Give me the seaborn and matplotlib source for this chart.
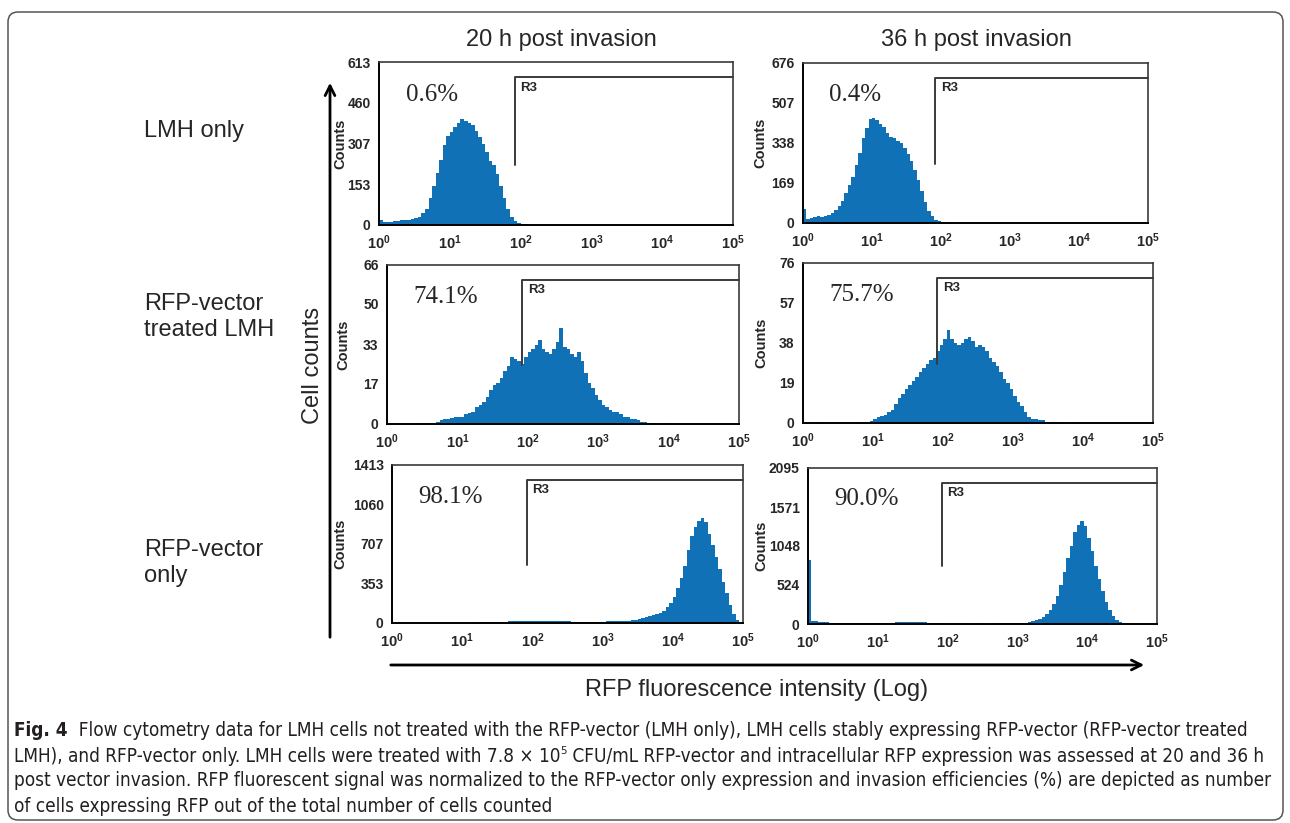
import numpy as np
import pandas as pd
import matplotlib
matplotlib.use("Agg")
import matplotlib.pyplot as plt
import matplotlib.transforms as mtransforms
from matplotlib.patches import FancyBboxPatch
from matplotlib import font_manager
import seaborn as sns

# ---------------- data ----------------
column_titles = ["20 h post invasion", "36 h post invasion"]
row_labels = ["LMH only", "RFP-vector\ntreated LMH", "RFP-vector\nonly"]
percent_labels = [["0.6%", "0.4%"], ["74.1%", "75.7%"], ["98.1%", "90.0%"]]
y_tick_labels = [
    [[0, 153, 307, 460, 613], [0, 169, 338, 507, 676]],
    [[0, 17, 33, 50, 66], [0, 19, 38, 57, 76]],
    [[0, 353, 707, 1060, 1413], [0, 524, 1048, 1571, 2095]],
]
x_tick_exponents = [0, 1, 2, 3, 4, 5]
gate_label = "R3"
gate_start = 83          # lower bound of the R3 gate (fluorescence units)
n_channels = 100         # channels spread evenly over 5 log decades

# counts per channel, channel 0 = 10^0
counts_lmh_20h = [20, 10, 12, 12, 14, 15, 18, 18, 20, 22, 25, 30, 45, 62, 100, 145, 195, 245, 300, 335,
                  350, 370, 385, 400, 390, 385, 375, 355, 330, 305, 275, 240, 225, 190, 145, 100, 60, 30,
                  15, 8, 4, 2]
counts_lmh_36h = [60, 18, 22, 25, 28, 26, 30, 35, 42, 55, 70, 95, 126, 160, 196, 245, 295, 360, 400, 440,
                  445, 435, 420, 405, 380, 365, 358, 345, 337, 315, 290, 260, 225, 180, 135, 90, 50, 28,
                  14, 8, 4, 3, 2]
counts_treated_20h = [0, 0, 0, 0, 0, 0, 0, 0, 0,
                      0.5, 0.5, 0, 0.5, 0.5, 1, 1.5, 2, 2, 2.5, 3, 3, 3, 4, 4.5, 5, 7, 8, 9, 11, 14,
                      16, 17, 19, 22, 24, 28, 27, 26, 25, 28, 30, 31, 33, 35, 31, 30, 29, 31, 34, 40,
                      32, 31, 29, 28, 30, 26, 21, 17, 15, 12, 10, 8, 7, 6, 5, 5, 4, 3, 3, 2,
                      2, 1.5, 1, 1, 0.5, 0.5, 0.5, 0, 0, 0.5]
counts_treated_36h = [0, 0, 0, 0, 0.5, 0, 0, 0, 0, 0, 0, 0, 0, 0, 0, 0, 0, 0.5, 0,
                      1, 2, 3, 3.5, 4, 5, 6, 9, 12, 14, 16, 18, 20, 22, 24, 26, 28, 30, 31, 34, 37,
                      40, 44, 40, 38, 37, 38, 40, 41, 39, 36, 37, 36, 34, 31, 29, 27, 24, 21, 19, 16,
                      13, 10, 8, 5, 3, 2, 2, 1.5, 1.5, 0.5, 0, 0.5, 0.5, 0, 0, 0, 0, 0.5]
counts_vector_20h = [0] * 20 + [
    1, 2, 3, 3, 5, 6, 7, 8, 9, 10, 11, 12, 13, 14, 15, 16, 17, 18, 19, 20,
    22, 22, 21, 20, 18, 17, 16, 15, 15, 14, 14, 13, 13, 12, 12, 12, 12, 12, 12, 13,
    13, 14, 14, 15, 16, 18, 20, 22, 25, 30, 35, 42, 50, 60, 70, 78, 90, 110, 140, 180,
    230, 310, 400, 510, 650, 780, 860, 910, 940, 900, 800, 700, 590, 480, 370, 270, 160, 80, 30, 8]
counts_vector_36h = [860,
                     40, 35, 30, 28, 25, 20, 15, 12, 10, 8, 8, 8, 8, 8, 8, 9, 9, 10, 11, 13,
                     15, 17, 18, 20, 22, 24, 25, 27, 28, 30, 28, 26, 22, 18, 12, 9, 8, 7, 7,
                     6, 6, 7, 6, 6, 7, 6, 6, 6, 7, 6, 6, 6, 6, 7, 7, 7, 8, 8, 9,
                     10, 14, 18, 25, 35, 50, 70, 100, 140, 190, 270, 380, 530, 700, 880, 1050, 1230,
                     1330, 1380, 1320, 1150, 980, 780, 600, 440, 300, 190, 110, 55, 25, 10, 4, 2]

panel_counts = [[counts_lmh_20h, counts_lmh_36h],
                [counts_treated_20h, counts_treated_36h],
                [counts_vector_20h, counts_vector_36h]]

x_axis_title = "RFP fluorescence intensity (Log)"
y_axis_title = "Cell counts"
# each caption line is a list of (text, style) pieces; style: b=bold, n=normal, s=superscript
caption_lines = [
    [("Fig. 4", "b"), ("  Flow cytometry data for LMH cells not treated with the RFP-vector (LMH only), LMH cells stably expressing RFP-vector (RFP-vector treated", "n")],
    [("LMH), and RFP-vector only. LMH cells were treated with 7.8 \u00d7 10", "n"), ("5", "s"),
     (" CFU/mL RFP-vector and intracellular RFP expression was assessed at 20 and 36 h", "n")],
    [("post vector invasion. RFP fluorescent signal was normalized to the RFP-vector only expression and invasion efficiencies (%) are depicted as number", "n")],
    [("of cells expressing RFP out of the total number of cells counted", "n")],
]

# ---------------- style ----------------
FILL = "#1071b6"
sns.set_style("white")
fonts = font_manager.fontManager.ttflist
available = {f.name for f in fonts}
SANS = "Liberation Sans" if "Liberation Sans" in available else "DejaVu Sans"
SERIF = "Liberation Serif" if "Liberation Serif" in available else "DejaVu Serif"
cond = [f for f in fonts if f.name == "DejaVu Sans" and str(f.stretch) in ("condensed", "semi-condensed")]
CAP = dict(family="DejaVu Sans", stretch="condensed") if cond else dict(family=SANS)
plt.rcParams["font.family"] = [SANS, "DejaVu Sans"]
plt.rcParams["mathtext.fontset"] = "custom"
plt.rcParams["mathtext.bf"] = SANS + ":bold"

W, H = 1290, 823
fig = plt.figure(figsize=(W / 100, H / 100), dpi=100)

bg = fig.add_axes([0, 0, 1, 1])
bg.set_xlim(0, W)
bg.set_ylim(H, 0)
bg.axis("off")
bg.add_patch(FancyBboxPatch((8, 12), 1275, 808, boxstyle="round,pad=0,rounding_size=10",
                            fc="none", ec="#555555", lw=1.1))

boxes = [[(379, 62, 733, 225), (803, 63, 1148, 223)],
         [(387, 265, 739, 424), (803, 263, 1153, 423)],
         [(392, 465, 743, 623), (808, 468, 1157, 624)]]
label_offsets = [[32, 36], [37, 35], [45, 40]]

log_channels = np.linspace(0, 5, n_channels + 1)[:-1] + 2.5 / n_channels

for r in range(3):
    for c in range(2):
        l, t, rr, b = boxes[r][c]
        ax = fig.add_axes([l / W, 1 - b / H, (rr - l) / W, (b - t) / H])
        counts = list(panel_counts[r][c]) + [0] * (n_channels - len(panel_counts[r][c]))
        df = pd.DataFrame({"intensity": 10 ** log_channels, "count": counts})
        sns.histplot(data=df, x="intensity", weights="count", log_scale=True,
                     binrange=(0, 5), binwidth=5 / n_channels, element="step", fill=True,
                     color=FILL, alpha=1, linewidth=0, ax=ax)
        yt = y_tick_labels[r][c]
        ax.set_xlim(10 ** x_tick_exponents[0], 10 ** x_tick_exponents[-1])
        ax.set_ylim(0, yt[-1])
        ax.set_xticks([10 ** e for e in x_tick_exponents])
        ax.set_xticklabels([r"$\mathbf{10^{%d}}$" % e for e in x_tick_exponents], fontsize=10.5)
        ax.xaxis.set_minor_locator(matplotlib.ticker.NullLocator())
        ax.set_yticks(yt)
        ax.set_yticklabels([str(v) for v in yt], fontsize=10, fontweight="bold")
        ax.tick_params(axis="both", direction="out", length=4, width=1.2, color="black", pad=2)
        ax.set_xlabel("")
        ax.set_ylabel("Counts", fontsize=10.5, fontweight="bold")
        ax.yaxis.set_label_coords(-label_offsets[r][c] / (rr - l), 0.5)
        for side in ["left", "bottom"]:
            ax.spines[side].set_color("black")
            ax.spines[side].set_linewidth(1.4)
        for side in ["top", "right"]:
            ax.spines[side].set_visible(True)
            ax.spines[side].set_color("#3a3a3a")
            ax.spines[side].set_linewidth(1.2)
        trans = mtransforms.blended_transform_factory(ax.transData, ax.transAxes)
        ax.plot([gate_start, gate_start, 10 ** x_tick_exponents[-1]], [0.37, 0.905, 0.905],
                transform=trans, color="#3a3a3a", lw=1.4, clip_on=False)
        ax.annotate(gate_label, xy=(gate_start, 0.905), xycoords=trans, xytext=(4, -3),
                    textcoords="offset points", ha="left", va="top", fontsize=9.5, fontweight="bold")
        ax.text(0.075, 0.80, percent_labels[r][c], transform=ax.transAxes, fontsize=18,
                family=SERIF, va="center", ha="left")

for c, xc in enumerate([561, 976]):
    bg.text(xc, 40, column_titles[c], fontsize=17, ha="center", va="center")
for r, yc in enumerate([131, 317, 563]):
    bg.text(144, yc, row_labels[r], fontsize=17, ha="left", va="center", linespacing=1.25)

bg.annotate("", xy=(330, 80), xytext=(330, 640),
            arrowprops=dict(arrowstyle="->,head_length=0.7,head_width=0.35", lw=2, color="black"))
bg.annotate("", xy=(1147, 665), xytext=(388, 665),
            arrowprops=dict(arrowstyle="->,head_length=0.7,head_width=0.35", lw=2, color="black"))
bg.text(313, 365, y_axis_title, rotation=90, fontsize=17, ha="center", va="center")
bg.text(757, 690, x_axis_title, fontsize=17, ha="center", va="center")

# caption: choose the largest size at which every line fits its reference width
renderer = fig.canvas.get_renderer()
targets = [1248, 1258, 1264, 2000]
sizes = []
for pieces, target in zip(caption_lines, targets):
    total = 0
    for txt, st in pieces:
        fs = 10 * (0.6 if st == "s" else 1)
        p = bg.text(0, 0, txt, fontsize=fs, fontweight="bold" if st == "b" else "normal", **CAP)
        total += p.get_window_extent(renderer).width
        p.remove()
    sizes.append(10 * target / total)
cap_size = min(sizes)

CAPCOL = "#231f20"
for i, pieces in enumerate(caption_lines):
    y = 731 + 25 * i
    prev = None       # artist giving the x position for the next piece
    base = None       # last normal-size artist giving the baseline
    for txt, st in pieces:
        kw = dict(fontsize=cap_size * (0.6 if st == "s" else 1),
                  fontweight="bold" if st == "b" else "normal", color=CAPCOL, **CAP)
        if prev is None:
            prev = bg.text(14, y, txt, ha="left", va="center", **kw)
            base = prev
        elif st == "s":
            prev = bg.annotate(txt, xy=(1, 0.5), xycoords=(prev, base), ha="left", va="bottom", **kw)
        else:
            prev = bg.annotate(txt, xy=(1, 0), xycoords=(prev, base), ha="left", va="bottom", **kw)
            base = prev

fig.savefig("out.png", dpi=100)
